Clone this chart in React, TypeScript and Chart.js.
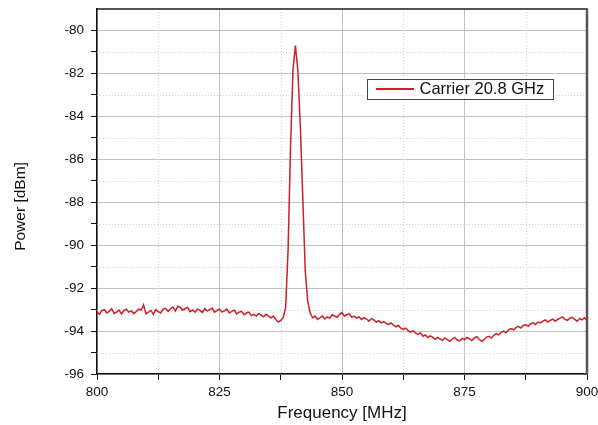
import { useEffect, useRef } from "react";
import { Chart, registerables } from "chart.js";

Chart.register(...registerables);

// ---- data ----
const FREQ_START = 800; // MHz
const FREQ_STEP = 0.5; // MHz

// 800 – 837.5 MHz
const POWER_LEFT = [
  -93.10, -93.22, -93.04, -93.00, -93.16, -93.08, -92.96, -93.18, -93.12, -93.02,
  -93.20, -93.04, -92.98, -93.12, -93.06, -93.18, -93.10, -92.98, -93.02, -92.78,
  -93.20, -93.12, -93.04, -93.22, -93.00, -93.10, -93.16, -92.98, -92.94, -93.08,
  -92.96, -92.88, -93.06, -92.84, -92.90, -93.02, -92.96, -92.90, -93.10, -93.02,
  -93.12, -92.98, -93.04, -93.14, -92.96, -93.06, -93.00, -92.94, -93.12, -93.04,
  -92.98, -93.12, -93.06, -92.98, -93.16, -93.08, -93.02, -93.20, -93.12, -93.08,
  -93.24, -93.16, -93.12, -93.28, -93.22, -93.30, -93.18, -93.26, -93.34, -93.22,
  -93.30, -93.38, -93.30, -93.46, -93.58, -93.50,
];
// 838 – 844 MHz (carrier)
const POWER_PEAK = [
  -93.38, -92.9, -90.2, -85.4, -81.8, -80.7, -81.9, -84.5, -87.8, -91.2,
  -92.6, -93.15, -93.38,
];
// 844.5 – 900 MHz
const POWER_RIGHT = [
  -93.30, -93.46, -93.38, -93.30, -93.44, -93.34, -93.40, -93.24, -93.30, -93.36, -93.22,
  -93.14, -93.30, -93.24, -93.20, -93.36, -93.30, -93.40, -93.34, -93.46, -93.38,
  -93.44, -93.54, -93.42, -93.48, -93.58, -93.52, -93.62, -93.56, -93.64, -93.70,
  -93.62, -93.72, -93.80, -93.74, -93.86, -93.92, -93.86, -93.98, -94.06, -93.98,
  -94.10, -94.16, -94.08, -94.24, -94.18, -94.30, -94.22, -94.28, -94.38, -94.30,
  -94.36, -94.44, -94.32, -94.40, -94.48, -94.38, -94.30, -94.42, -94.46, -94.34,
  -94.40, -94.30, -94.36, -94.44, -94.32, -94.26, -94.38, -94.48, -94.40, -94.28,
  -94.24, -94.32, -94.20, -94.12, -94.18, -94.06, -94.00, -94.08, -93.94, -93.88,
  -93.94, -93.84, -93.78, -93.86, -93.74, -93.70, -93.78, -93.66, -93.62, -93.70,
  -93.58, -93.62, -93.54, -93.48, -93.58, -93.50, -93.44, -93.54, -93.46, -93.40,
  -93.34, -93.46, -93.50, -93.40, -93.36, -93.46, -93.54, -93.42, -93.48, -93.38, -93.52,
];

const POWER = [...POWER_LEFT, ...POWER_PEAK, ...POWER_RIGHT];
const FREQUENCY = POWER.map((_, i) => FREQ_START + i * FREQ_STEP);

const X_MIN = 800;
const X_MAX = 900;
const X_MINOR_STEP = 12.5;
const X_LABEL_STEP = 25;
const Y_MIN = -96;
const Y_MAX = -79;
const Y_MINOR_STEP = 1;
const Y_LABEL_STEP = 2;

const SERIES_LABEL = "Carrier 20.8 GHz";
const X_TITLE = "Frequency [MHz]";
const Y_TITLE = "Power [dBm]";

const LINE_COLOR = "#cc1f26";
const FONT = '"Liberation Sans", Arial, sans-serif';

const isMajor = (v: number, step: number) => Math.abs(v / step - Math.round(v / step)) < 1e-6;

const minorGridPlugin = {
  id: "minorGrid",
  beforeDatasetsDraw(chart: any) {
    const { ctx, chartArea } = chart;
    const xs = chart.scales.x;
    const ys = chart.scales.y;
    ctx.save();
    ctx.strokeStyle = "#d0d0d0";
    ctx.lineWidth = 1;
    ctx.setLineDash([1, 2]);
    xs.ticks.forEach((t: any) => {
      if (isMajor(t.value, X_LABEL_STEP)) return;
      const px = Math.round(xs.getPixelForValue(t.value)) + 0.5;
      ctx.beginPath();
      ctx.moveTo(px, chartArea.top);
      ctx.lineTo(px, chartArea.bottom);
      ctx.stroke();
    });
    ys.ticks.forEach((t: any) => {
      if (isMajor(t.value, Y_LABEL_STEP) || t.value === Y_MAX) return;
      const py = Math.round(ys.getPixelForValue(t.value)) + 0.5;
      ctx.beginPath();
      ctx.moveTo(chartArea.left, py);
      ctx.lineTo(chartArea.right, py);
      ctx.stroke();
    });
    ctx.restore();
  },
};

const framePlugin = {
  id: "frame",
  afterDraw(chart: any) {
    const { ctx, chartArea } = chart;
    ctx.save();
    ctx.strokeStyle = "#1a1a1a";
    ctx.lineWidth = 1.5;
    ctx.beginPath();
    ctx.moveTo(chartArea.left, chartArea.top);
    ctx.lineTo(chartArea.right, chartArea.top);
    ctx.stroke();
    ctx.strokeStyle = "#555";
    ctx.lineWidth = 2.5;
    ctx.beginPath();
    ctx.moveTo(chartArea.right, chartArea.top - 0.75);
    ctx.lineTo(chartArea.right, chartArea.bottom);
    ctx.stroke();
    // y-axis title
    ctx.fillStyle = "#111";
    ctx.font = `15.5px ${FONT}`;
    ctx.textAlign = "center";
    ctx.textBaseline = "middle";
    ctx.translate(21, chartArea.top + 197.5);
    ctx.rotate(-Math.PI / 2);
    ctx.fillText(Y_TITLE, 0, 0);
    ctx.restore();
  },
};

const legendBoxPlugin = {
  id: "legendBox",
  afterDraw(chart: any) {
    const { ctx, chartArea } = chart;
    const ds = chart.data.datasets[0];
    const bx = chartArea.left + 270;
    const by = chartArea.top + 69.5;
    const bw = 186;
    const bh = 20;
    ctx.save();
    ctx.fillStyle = "#fff";
    ctx.fillRect(bx, by, bw, bh);
    ctx.strokeStyle = "#444";
    ctx.lineWidth = 1;
    ctx.strokeRect(Math.round(bx) + 0.5, Math.round(by) + 0.5, bw, bh);
    const cy = by + bh / 2 + 0.5;
    ctx.strokeStyle = ds.borderColor;
    ctx.lineWidth = 2;
    ctx.beginPath();
    ctx.moveTo(bx + 9, cy);
    ctx.lineTo(bx + 47, cy);
    ctx.stroke();
    ctx.fillStyle = "#111";
    ctx.font = `16.5px ${FONT}`;
    ctx.textBaseline = "middle";
    ctx.textAlign = "left";
    ctx.fillText(ds.label, bx + 52.5, cy + 0.5);
    ctx.restore();
  },
};

const zeroPad = (s: any) => {
  s.paddingTop = 0;
  s.paddingBottom = 0;
  s.paddingLeft = 0;
  s.paddingRight = 0;
};

export default function App() {
  const canvasRef = useRef<HTMLCanvasElement | null>(null);

  useEffect(() => {
    if (!canvasRef.current) return;
    const chart = new Chart(canvasRef.current, {
      type: "line",
      data: {
        datasets: [
          {
            label: SERIES_LABEL,
            data: FREQUENCY.map((f, i) => ({ x: f, y: POWER[i] })),
            borderColor: LINE_COLOR,
            backgroundColor: LINE_COLOR,
            borderWidth: 1.5,
            pointRadius: 0,
            tension: 0,
            fill: false,
          },
        ],
      },
      options: {
        animation: false,
        responsive: false,
        maintainAspectRatio: false,
        events: [],
        layout: { padding: { left: 0, top: 9, right: 11, bottom: 0 } },
        plugins: {
          legend: { display: false },
          tooltip: { enabled: false },
        },
        scales: {
          x: {
            type: "linear",
            min: X_MIN,
            max: X_MAX,
            afterFit: (s: any) => {
              s.height = 51;
              zeroPad(s);
            },
            ticks: {
              stepSize: X_MINOR_STEP,
              autoSkip: false,
              maxRotation: 0,
              padding: 4,
              color: "#111",
              font: { family: FONT, size: 13.5 },
              callback: (v: any) => (isMajor(Number(v), X_LABEL_STEP) ? String(v) : ""),
            },
            grid: {
              color: (c: any) =>
                c.tick && isMajor(c.tick.value, X_LABEL_STEP) ? "#c2c2c2" : "rgba(0,0,0,0)",
              tickColor: "#111",
              tickLength: 6,
              lineWidth: 1,
            },
            border: { display: true, color: "#111", width: 1.5 },
            title: {
              display: true,
              text: X_TITLE,
              color: "#111",
              font: { family: FONT, size: 17 },
              padding: { top: 0, bottom: 1 },
            },
          },
          y: {
            type: "linear",
            min: Y_MIN,
            max: Y_MAX,
            afterFit: (s: any) => {
              s.width = 97;
              zeroPad(s);
            },
            ticks: {
              stepSize: Y_MINOR_STEP,
              autoSkip: false,
              padding: 7,
              color: "#111",
              font: { family: FONT, size: 13.5 },
              callback: (v: any) => (isMajor(Number(v), Y_LABEL_STEP) ? String(v) : ""),
            },
            grid: {
              color: (c: any) =>
                c.tick && isMajor(c.tick.value, Y_LABEL_STEP) ? "#c2c2c2" : "rgba(0,0,0,0)",
              tickColor: (c: any) => (c.tick && c.tick.value === Y_MAX ? "rgba(0,0,0,0)" : "#111"),
              tickLength: 6,
              lineWidth: 1,
            },
            border: { display: true, color: "#111", width: 1.5 },
            title: { display: false },
          },
        },
      },
      plugins: [minorGridPlugin, framePlugin, legendBoxPlugin],
    });
    return () => chart.destroy();
  }, []);

  return (
    <div style={{ position: "fixed", left: 0, top: 0, width: 598, height: 425, background: "#fff" }}>
      <canvas ref={canvasRef} width={598} height={425} style={{ width: 598, height: 425 }} />
    </div>
  );
}
